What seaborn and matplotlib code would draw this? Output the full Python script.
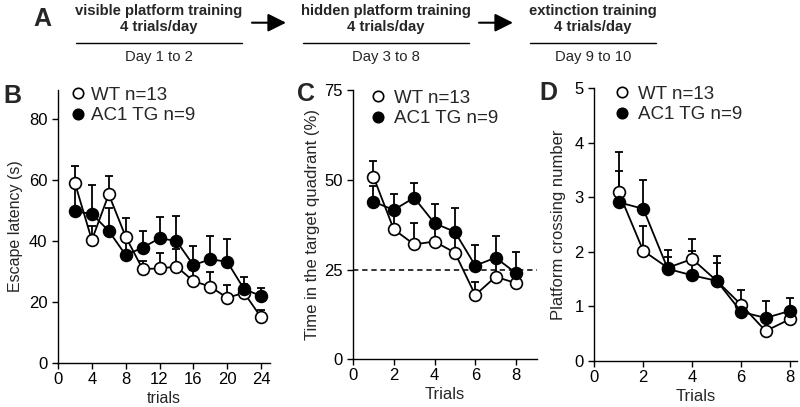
import numpy as np
import pandas as pd
import matplotlib
matplotlib.use("Agg")
import matplotlib.pyplot as plt
import seaborn as sns
from matplotlib.lines import Line2D
from matplotlib.patches import FancyArrowPatch

# ---------------- data ----------------
trials_B = [2, 4, 6, 8, 10, 12, 14, 16, 18, 20, 22, 24]
wt_B = [59.0, 40.3, 55.3, 41.4, 30.8, 31.0, 31.6, 26.9, 25.0, 21.4, 23.0, 15.0]
wt_B_err = [5.6, 4.7, 6.0, 6.2, 2.5, 4.9, 5.7, 3.5, 4.7, 4.2, 3.0, 2.4]
tg_B = [49.7, 48.9, 43.3, 35.4, 37.8, 40.9, 40.0, 32.1, 34.0, 33.2, 24.2, 22.0]
tg_B_err = [10.1, 9.5, 7.6, 5.5, 5.6, 7.1, 8.2, 6.4, 7.6, 7.3, 3.9, 2.5]

trials_C = [1, 2, 3, 4, 5, 6, 7, 8]
wt_C = [50.9, 36.2, 32.0, 32.8, 29.7, 17.9, 23.0, 21.2]
wt_C_err = [4.4, 4.5, 5.9, 5.0, 5.5, 3.7, 5.0, 2.5]
tg_C = [43.9, 41.6, 45.0, 37.9, 35.5, 26.1, 28.3, 24.0]
tg_C_err = [4.4, 4.4, 4.0, 5.3, 6.6, 5.7, 6.0, 6.0]
chance_C = 25

trials_D = [1, 2, 3, 4, 5, 6, 7, 8]
wt_D = [3.09, 2.02, 1.71, 1.87, 1.47, 1.03, 0.55, 0.77]
wt_D_err = [0.74, 0.46, 0.33, 0.36, 0.46, 0.27, 0.25, 0.15]
tg_D = [2.91, 2.79, 1.69, 1.57, 1.47, 0.90, 0.79, 0.92]
tg_D_err = [0.58, 0.52, 0.22, 0.45, 0.33, 0.12, 0.31, 0.23]

label_wt = "WT n=13"
label_tg = "AC1 TG n=9"

stages = ["visible platform training", "hidden platform training", "extinction training"]
stage_sub = ["4 trials/day", "4 trials/day", "4 trials/day"]
stage_days = ["Day 1 to 2", "Day 3 to 8", "Day 9 to 10"]

# ---------------- style ----------------
sns.set_theme(style="ticks")
plt.rcParams["font.family"] = ["Liberation Sans", "DejaVu Sans"]
plt.rcParams["axes.linewidth"] = 1.0
plt.rcParams["xtick.major.width"] = 1.0
plt.rcParams["ytick.major.width"] = 1.0
plt.rcParams["xtick.major.size"] = 4.5
plt.rcParams["ytick.major.size"] = 4.5
plt.rcParams["xtick.color"] = "black"
plt.rcParams["ytick.color"] = "black"
plt.rcParams["axes.edgecolor"] = "black"

W, H = 800, 407
fig = plt.figure(figsize=(8.0, 4.07), dpi=100)


def fx(x):
    return x / W


def fy(y):
    return 1 - y / H


def draw_panel(ax, x, wt, wt_err, tg, tg_err, ms=8.5):
    zeros = np.zeros(len(x))
    ax.errorbar(x, wt, yerr=[zeros, wt_err], fmt="none", ecolor="black",
                elinewidth=1.3, capsize=2.6, capthick=1.3, zorder=2)
    ax.errorbar(x, tg, yerr=[zeros, tg_err], fmt="none", ecolor="black",
                elinewidth=1.3, capsize=2.6, capthick=1.3, zorder=2)
    df = pd.DataFrame({"x": list(x) * 2,
                       "y": list(wt) + list(tg),
                       "g": [label_wt] * len(x) + [label_tg] * len(x)})
    sns.lineplot(data=df[df.g == label_wt], x="x", y="y", ax=ax, color="black",
                 marker="o", markersize=ms, markerfacecolor="white",
                 markeredgecolor="black", markeredgewidth=1.2, linewidth=1.3,
                 zorder=3, legend=False)
    sns.lineplot(data=df[df.g == label_tg], x="x", y="y", ax=ax, color="black",
                 marker="o", markersize=ms, markerfacecolor="black",
                 markeredgecolor="black", markeredgewidth=1.2, linewidth=1.3,
                 zorder=4, legend=False)
    sns.despine(ax=ax)
    ax.tick_params(labelsize=12, direction="out")
    ax.tick_params(axis="x", pad=2)
    ax.tick_params(axis="y", pad=3)


def add_legend(ax, left_px, top_px, htp):
    handles = [Line2D([], [], marker="o", ls="none", mfc="white", mec="black", ms=7.5, mew=1.2),
               Line2D([], [], marker="o", ls="none", mfc="black", mec="black", ms=7.5, mew=1.2)]
    ax.legend(handles, [label_wt, label_tg], loc="upper left",
              bbox_to_anchor=(fx(left_px), fy(top_px)), bbox_transform=fig.transFigure,
              frameon=False, fontsize=13.5, handlelength=1.0, handletextpad=htp,
              borderpad=0, borderaxespad=0, labelspacing=0.18)


# ---------------- panel B ----------------
axB = fig.add_axes([fx(58), fy(363), 212 / W, 273 / H])
draw_panel(axB, trials_B, wt_B, wt_B_err, tg_B, tg_B_err)
axB.set_xlim(0, 25.06)
axB.set_ylim(0, 89.5)
axB.set_xticks([0, 4, 8, 12, 16, 20, 24])
axB.set_yticks([0, 20, 40, 60, 80])
axB.set_xlabel("trials", fontsize=11.5, labelpad=3)
axB.set_ylabel("Escape latency (s)", fontsize=11.5, labelpad=4)
add_legend(axB, 68.9, 86.5, 0.18)

# ---------------- panel C ----------------
axC = fig.add_axes([fx(353), fy(359.3), 184 / W, 269.3 / H])
draw_panel(axC, trials_C, wt_C, wt_C_err, tg_C, tg_C_err)
axC.axhline(chance_C, color="black", lw=1.1, ls=(0, (3.5, 2.5)), zorder=1)
axC.set_xlim(0, 9.03)
axC.set_ylim(0, 75)
axC.set_xticks([0, 2, 4, 6, 8])
axC.set_yticks([0, 25, 50, 75])
axC.set_xlabel("Trials", fontsize=12, labelpad=3)
axC.set_ylabel("Time in the target quadrant (%)", fontsize=12, labelpad=3)
add_legend(axC, 368.4, 89.5, 0.35)

# ---------------- panel D ----------------
axD = fig.add_axes([fx(594.3), fy(361), 203 / W, 272.7 / H])
draw_panel(axD, trials_D, wt_D, wt_D_err, tg_D, tg_D_err)
axD.set_xlim(0, 8.29)
axD.set_ylim(0, 5)
axD.set_xticks([0, 2, 4, 6, 8])
axD.set_yticks([0, 1, 2, 3, 4, 5])
axD.set_xlabel("Trials", fontsize=12, labelpad=3)
axD.set_ylabel("Platform crossing number", fontsize=12, labelpad=6)
add_legend(axD, 612.3, 85.5, 0.35)

# ---------------- panel letters ----------------
for letter, (px, py) in zip("ABCD", [(42.5, 19), (12, 96), (306, 94), (548, 93)]):
    fig.text(fx(px), fy(py), letter, fontsize=18, fontweight="bold",
             ha="center", va="center")

# ---------------- panel A timeline ----------------
centers = [159.0, 386.0, 593.0]
line_spans = [(75.7, 242.3), (303, 469), (530, 656)]
for c, (l0, l1), t1, t2, t3 in zip(centers, line_spans, stages, stage_sub, stage_days):
    fig.text(fx(c), fy(10.5), t1, fontsize=10.7, fontweight="bold", ha="center", va="center")
    fig.text(fx(c), fy(27.5), t2, fontsize=10.7, fontweight="bold", ha="center", va="center")
    fig.add_artist(Line2D([fx(l0), fx(l1)], [fy(42.7), fy(42.7)], color="black", lw=1.0))
    fig.text(fx(c), fy(57), t3, fontsize=10.7, ha="center", va="center")

for (a0, a1) in [(252, 286), (479, 513)]:
    arr = FancyArrowPatch((fx(a0), fy(22.7)), (fx(a1), fy(22.7)),
                          transform=fig.transFigure,
                          arrowstyle="-|>,head_length=1.1,head_width=0.55",
                          mutation_scale=10, lw=1.5, color="black",
                          shrinkA=0, shrinkB=0)
    fig.add_artist(arr)

fig.savefig("out.png", dpi=100)
